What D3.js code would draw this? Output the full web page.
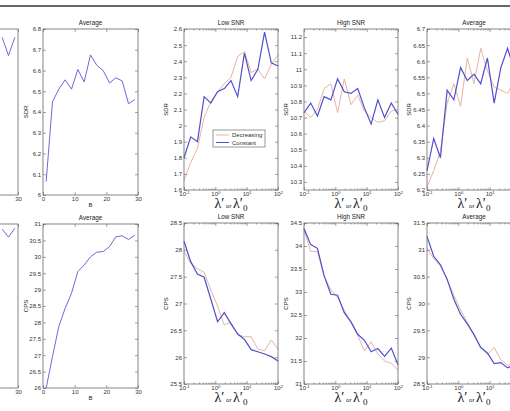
<!DOCTYPE html>
<html>
<head>
<meta charset="utf-8">
<script src="https://cdn.jsdelivr.net/npm/d3@7"></script>
<style>
body { margin: 0; background: #fff; }
svg { display: block; font-family: "Liberation Sans", Arial, sans-serif; }
</style>
</head>
<body>
<div id="chart"></div>
<script>
// x values
const bValues = [1, 3, 5, 7, 9, 11, 13, 15, 17, 19, 21, 23, 25, 27, 29];
const lambdaValues = [0.1, 0.1638, 0.2683, 0.4394, 0.7197, 1.179, 1.931, 3.162, 5.179, 8.483, 13.89, 22.76, 37.28, 61.05, 100];

// average over B
const avgBSdr = [6.065, 6.45, 6.51, 6.555, 6.51, 6.605, 6.545, 6.675, 6.625, 6.60, 6.54, 6.565, 6.55, 6.44, 6.46];
const avgBCps = [26.0, 26.96, 27.88, 28.43, 28.89, 29.55, 29.75, 30.0, 30.14, 30.16, 30.31, 30.61, 30.64, 30.53, 30.66];

// partly visible panels on the far left (only the last points show)
const leftB = [25, 27, 29];
const leftSdr = [10.95, 10.84, 10.95];
const leftCps = [34.39, 34.22, 34.41];

// SDR vs lambda
const lowSdrDec   = [1.66, 1.77, 1.86, 2.05, 2.15, 2.21, 2.26, 2.30, 2.43, 2.46, 2.33, 2.35, 2.29, 2.38, 2.44];
const lowSdrConst = [1.80, 1.93, 1.90, 2.18, 2.14, 2.21, 2.23, 2.28, 2.18, 2.45, 2.28, 2.35, 2.58, 2.39, 2.37];
const highSdrDec   = [10.74, 10.70, 10.75, 10.88, 10.91, 10.73, 10.94, 10.78, 10.84, 10.74, 10.70, 10.67, 10.68, 10.74, 10.75];
const highSdrConst = [10.73, 10.79, 10.71, 10.83, 10.81, 10.94, 10.86, 10.85, 10.88, 10.76, 10.66, 10.81, 10.70, 10.79, 10.72];
const avgSdrDec   = [6.21, 6.26, 6.32, 6.47, 6.53, 6.46, 6.61, 6.53, 6.64, 6.57, 6.52, 6.51, 6.50, 6.54, 6.56];
const avgSdrConst = [6.26, 6.36, 6.30, 6.51, 6.48, 6.58, 6.54, 6.56, 6.53, 6.61, 6.47, 6.58, 6.64, 6.57, 6.60];

// CPS vs lambda
const lowCpsDec   = [27.97, 27.75, 27.65, 27.58, 27.25, 26.95, 26.60, 26.65, 26.42, 26.38, 26.38, 26.15, 26.12, 26.32, 26.15];
const lowCpsConst = [28.16, 27.78, 27.55, 27.49, 27.08, 26.66, 26.83, 26.62, 26.43, 26.33, 26.14, 26.10, 26.06, 26.01, 25.93];
const highCpsDec   = [34.35, 33.88, 33.88, 33.35, 33.05, 32.88, 32.60, 32.35, 32.05, 31.72, 31.92, 31.65, 31.50, 31.45, 31.30];
const highCpsConst = [34.38, 34.03, 33.95, 33.35, 32.95, 32.93, 32.55, 32.35, 32.08, 31.95, 31.70, 31.77, 31.60, 31.78, 31.42];
const avgCpsDec   = [31.02, 30.84, 30.70, 30.45, 30.15, 29.88, 29.65, 29.42, 29.18, 29.05, 29.18, 28.95, 28.85, 28.88, 28.90];
const avgCpsConst = [31.25, 30.88, 30.72, 30.45, 30.08, 29.80, 29.62, 29.42, 29.18, 29.08, 28.88, 28.90, 28.80, 28.86, 28.90];

// tick labels
const bTicks = [0, 10, 20, 30];
const logTicks = [0.1, 1, 10, 100];
const logTickExp = ["-1", "0", "1", "2"];
const avgBSdrTicks = [6, 6.1, 6.2, 6.3, 6.4, 6.5, 6.6, 6.7, 6.8];
const avgBCpsTicks = [26, 26.5, 27, 27.5, 28, 28.5, 29, 29.5, 30, 30.5, 31];
const lowSdrTicks = [1.6, 1.7, 1.8, 1.9, 2, 2.1, 2.2, 2.3, 2.4, 2.5, 2.6];
const highSdrTicks = [10.3, 10.4, 10.5, 10.6, 10.7, 10.8, 10.9, 11, 11.1, 11.2];
const avgSdrTicks = [6.2, 6.25, 6.3, 6.35, 6.4, 6.45, 6.5, 6.55, 6.6, 6.65, 6.7];
const lowCpsTicks = [25.5, 26, 26.5, 27, 27.5, 28, 28.5];
const highCpsTicks = [31, 31.5, 32, 32.5, 33, 33.5, 34, 34.5];
const avgCpsTicks = [28.5, 29, 29.5, 30, 30.5, 31, 31.5];

const decColor = "#e8b3a3";
const constColor = "#4f4fd0";
const bColor = "#6a6ad8";

const svg = d3.select("#chart").append("svg")
    .attr("width", 510)
    .attr("height", 411);

// rule across the top
svg.append("line")
    .attr("x1", 0).attr("x2", 510)
    .attr("y1", 6).attr("y2", 6)
    .attr("stroke", "#333").attr("stroke-width", 1.5);

function drawPanel(p) {
    const g = svg.append("g");
    const x = p.log
        ? d3.scaleLog().domain([0.1, 100]).range([p.left, p.left + p.w])
        : d3.scaleLinear().domain([0, 30]).range([p.left, p.left + p.w]);
    const y = d3.scaleLinear().domain(p.yDomain).range([p.top + p.h, p.top]);

    // lines
    const line = d3.line().x(d => x(d[0])).y(d => y(d[1]));
    p.series.forEach(s => {
        g.append("path")
            .datum(s.values.map((v, i) => [p.xs[i], v]))
            .attr("d", line)
            .attr("fill", "none")
            .attr("stroke", s.color)
            .attr("stroke-width", s.width);
    });

    // box
    g.append("rect")
        .attr("x", p.left).attr("y", p.top)
        .attr("width", p.w).attr("height", p.h)
        .attr("fill", "none").attr("stroke", "#666").attr("stroke-width", 0.8);

    // x ticks bottom + top (inward)
    const xMajor = p.log ? logTicks : (p.xTicks || bTicks);
    const xb = g.append("g").attr("transform", `translate(0,${p.top + p.h})`)
        .call(d3.axisBottom(x).tickValues(xMajor).tickSize(-3).tickPadding(2).tickFormat(p.log ? () => "10" : d3.format("d")));
    g.append("g").attr("transform", `translate(0,${p.top})`)
        .call(d3.axisTop(x).tickValues(xMajor).tickSize(-3).tickFormat(""));
    if (p.log) {
        const minor = x.ticks().filter(v => !logTicks.includes(v));
        g.append("g").attr("transform", `translate(0,${p.top + p.h})`)
            .call(d3.axisBottom(x).tickValues(minor).tickSize(-1.5).tickFormat(""));
        g.append("g").attr("transform", `translate(0,${p.top})`)
            .call(d3.axisTop(x).tickValues(minor).tickSize(-1.5).tickFormat(""));
        xb.selectAll(".tick text").each(function(d, i) {
            d3.select(this).append("tspan")
                .attr("dy", "-0.45em")
                .attr("font-size", 4.2)
                .text(logTickExp[i]);
        });
    }

    // y ticks left + right (inward)
    g.append("g").attr("transform", `translate(${p.left},0)`)
        .call(d3.axisLeft(y).tickValues(p.yTicks).tickSize(-3).tickPadding(2).tickFormat(d => String(d)));
    g.append("g").attr("transform", `translate(${p.left + p.w},0)`)
        .call(d3.axisRight(y).tickValues(p.yTicks).tickSize(-3).tickFormat(""));

    g.selectAll(".domain").remove();
    g.selectAll(".tick line").attr("stroke", "#666").attr("stroke-width", 0.6);
    g.selectAll(".tick text").attr("font-size", 6).attr("fill", "#333");

    // title
    if (p.title) {
        g.append("text")
            .attr("x", p.left + p.w / 2).attr("y", p.top - 4)
            .attr("text-anchor", "middle").attr("font-size", 6.3).attr("fill", "#222")
            .text(p.title);
    }

    // y label
    if (p.ylabel) {
        g.append("text")
            .attr("transform", `translate(${p.left - (p.ylabelGap || 15)},${p.top + p.h / 2}) rotate(-90)`)
            .attr("text-anchor", "middle").attr("font-size", 6).attr("fill", "#222")
            .text(p.ylabel);
    }

    // x label
    if (p.log) {
        const t = g.append("text")
            .attr("x", p.left + p.w / 2).attr("y", p.top + p.h + 18)
            .attr("text-anchor", "middle")
            .attr("font-family", "'Liberation Serif', 'DejaVu Serif', serif")
            .attr("fill", "#111");
        t.append("tspan").attr("font-size", 14).text("\u03bb\u2032");
        t.append("tspan").attr("font-size", 6).attr("font-family", "'Liberation Sans', sans-serif").text(" or ");
        t.append("tspan").attr("font-size", 14).text("\u03bb\u2032");
        t.append("tspan").attr("font-size", 9).attr("dy", 3).text("0");
    } else if (p.xlabel) {
        g.append("text")
            .attr("x", p.left + p.w / 2).attr("y", p.top + p.h + 12)
            .attr("text-anchor", "middle").attr("font-size", 6).attr("fill", "#222")
            .text(p.xlabel);
    }
}

// left partial panels
drawPanel({ left: -77, top: 29, w: 95, h: 166, log: false, xs: leftB, xTicks: [30], yDomain: [10, 11], yTicks: [],
    series: [{ values: leftSdr, color: bColor, width: 1 }] });
drawPanel({ left: -77, top: 224, w: 95, h: 164, log: false, xs: leftB, xTicks: [30], yDomain: [31, 34.5], yTicks: [],
    series: [{ values: leftCps, color: bColor, width: 1 }] });

// average vs B
drawPanel({ left: 43, top: 29, w: 95, h: 166, log: false, xs: bValues, yDomain: [6, 6.8], yTicks: avgBSdrTicks,
    title: "Average", ylabel: "SDR", xlabel: "B",
    series: [{ values: avgBSdr, color: bColor, width: 1 }] });
drawPanel({ left: 43, top: 224, w: 95, h: 164, log: false, xs: bValues, yDomain: [26, 31], yTicks: avgBCpsTicks,
    title: "Average", ylabel: "CPS", xlabel: "B",
    series: [{ values: avgBCps, color: bColor, width: 1 }] });

// lambda panels
const lambdaPanels = [
    { left: 184, title: "Low SNR", sdr: [lowSdrDec, lowSdrConst], sdrDom: [1.6, 2.6], sdrTicks: lowSdrTicks,
      cps: [lowCpsDec, lowCpsConst], cpsDom: [25.5, 28.5], cpsTicks: lowCpsTicks },
    { left: 304, title: "High SNR", sdr: [highSdrDec, highSdrConst], sdrDom: [10.25, 11.25], sdrTicks: highSdrTicks,
      cps: [highCpsDec, highCpsConst], cpsDom: [31, 34.5], cpsTicks: highCpsTicks },
    { left: 427, title: "Average", sdr: [avgSdrDec, avgSdrConst], sdrDom: [6.2, 6.7], sdrTicks: avgSdrTicks,
      cps: [avgCpsDec, avgCpsConst], cpsDom: [28.5, 31.5], cpsTicks: avgCpsTicks }
];

lambdaPanels.forEach(lp => {
    drawPanel({ left: lp.left, top: 29, w: 94, h: 161, log: true, xs: lambdaValues, yDomain: lp.sdrDom,
        yTicks: lp.sdrTicks, title: lp.title, ylabel: "SDR", ylabelGap: 16,
        series: [{ values: lp.sdr[0], color: decColor, width: 1 }, { values: lp.sdr[1], color: constColor, width: 1.2 }] });
    drawPanel({ left: lp.left, top: 223, w: 94, h: 161, log: true, xs: lambdaValues, yDomain: lp.cpsDom,
        yTicks: lp.cpsTicks, title: lp.title, ylabel: "CPS", ylabelGap: 16,
        series: [{ values: lp.cps[0], color: decColor, width: 1 }, { values: lp.cps[1], color: constColor, width: 1.2 }] });
});

// legend in the Low SNR SDR panel
const legend = svg.append("g").attr("transform", "translate(213,130)");
legend.append("rect").attr("width", 52).attr("height", 17)
    .attr("fill", "#fff").attr("stroke", "#555").attr("stroke-width", 0.6);
[["Decreasing", decColor], ["Constant", constColor]].forEach(([name, c], i) => {
    legend.append("line").attr("x1", 3).attr("x2", 16).attr("y1", 5 + i * 7.5).attr("y2", 5 + i * 7.5)
        .attr("stroke", c).attr("stroke-width", 1);
    legend.append("text").attr("x", 19).attr("y", 7.2 + i * 7.5)
        .attr("font-size", 6).attr("fill", "#333").text(name);
});
</script>
</body>
</html>
